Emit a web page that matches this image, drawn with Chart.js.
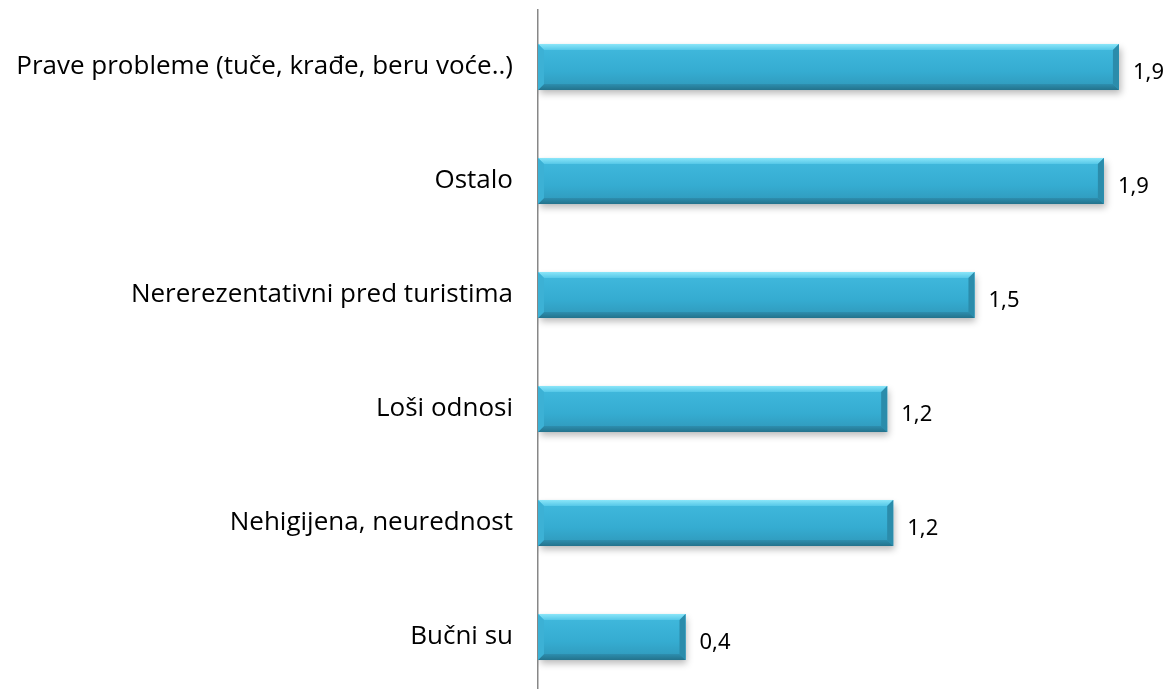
<!DOCTYPE html>
<html>
<head>
<meta charset="utf-8">
<script src="https://cdn.jsdelivr.net/npm/chart.js@4.4.1/dist/chart.umd.min.js"></script>
<style>
  html, body { margin: 0; padding: 0; background: #ffffff; overflow: hidden; }
  #wrap { width: 1174px; height: 689px; overflow: hidden; }
  #box { width: 1174px; height: 694px; position: relative; }
</style>
</head>
<body>
<div id="wrap"><div id="box"><canvas id="chart"></canvas></div></div>
<script>
const categories = [
    'Prave probleme (tuče, krađe, beru voće..)',
    'Ostalo',
    'Nererezentativni pred turistima',
    'Loši odnosi',
    'Nehigijena, neurednost',
    'Bučni su'
];
// bar lengths
const values = [1.93, 1.88, 1.45, 1.16, 1.18, 0.49];
// value labels as printed next to the bars
const valueLabels = ['1,9', '1,9', '1,5', '1,2', '1,2', '0,4'];

const shadowPlugin = {
    id: 'barShadow',
    beforeDatasetsDraw(chart) {
        const ctx = chart.ctx;
        ctx.save();
        ctx.shadowColor = 'rgba(0,0,0,0.28)';
        ctx.shadowBlur = 7;
        ctx.shadowOffsetX = 2;
        ctx.shadowOffsetY = 4;
    },
    afterDatasetsDraw(chart) {
        chart.ctx.restore();
    }
};

function poly(ctx, pts, fill) {
    ctx.beginPath();
    ctx.moveTo(pts[0][0], pts[0][1]);
    for (let i = 1; i < pts.length; i++) ctx.lineTo(pts[i][0], pts[i][1]);
    ctx.closePath();
    ctx.fillStyle = fill;
    ctx.fill();
}

const bevelPlugin = {
    id: 'bevel',
    afterDatasetsDraw(chart) {
        const ctx = chart.ctx;
        const meta = chart.getDatasetMeta(0);
        ctx.save();
        meta.data.forEach((bar, i) => {
            const p = bar.getProps(['x', 'y', 'base', 'height'], true);
            const l = p.base, r = p.x, t = p.y - p.height / 2, b = p.y + p.height / 2;
            const bv = 6;
            // face
            let g = ctx.createLinearGradient(0, t, 0, b);
            g.addColorStop(0, '#41bade');
            g.addColorStop(0.6, '#35acd1');
            g.addColorStop(1, '#2f97b9');
            ctx.fillStyle = g;
            ctx.fillRect(l, t, r - l, b - t);
            // top
            g = ctx.createLinearGradient(0, t, 0, t + bv);
            g.addColorStop(0, '#8be6f9');
            g.addColorStop(1, '#56c8e8');
            poly(ctx, [[l, t], [r, t], [r - bv, t + bv], [l + bv, t + bv]], g);
            // bottom
            g = ctx.createLinearGradient(0, b - bv, 0, b);
            g.addColorStop(0, '#2d8eae');
            g.addColorStop(1, '#23728c');
            poly(ctx, [[l, b], [r, b], [r - bv, b - bv], [l + bv, b - bv]], g);
            // left
            poly(ctx, [[l, t], [l + bv, t + bv], [l + bv, b - bv], [l, b]], '#3cb1d5');
            // right
            poly(ctx, [[r, t], [r - bv, t + bv], [r - bv, b - bv], [r, b]], '#2b8cab');
            // value label
            ctx.fillStyle = '#000000';
            ctx.font = '22px "Noto Sans"';
            ctx.textAlign = 'left';
            ctx.textBaseline = 'middle';
            ctx.fillText(valueLabels[i], r + 14, p.y + 6);
        });
        ctx.restore();
    }
};

new Chart(document.getElementById('chart'), {
    type: 'bar',
    data: {
        labels: categories,
        datasets: [{
            data: values,
            backgroundColor: '#35acd1',
            borderWidth: 0,
            barPercentage: 0.404,
            categoryPercentage: 1.0
        }]
    },
    options: {
        indexAxis: 'y',
        responsive: true,
        maintainAspectRatio: false,
        animation: false,
        layout: { padding: { top: 10, bottom: 0, left: 0, right: 34 } },
        plugins: {
            legend: { display: false },
            tooltip: { enabled: false }
        },
        scales: {
            x: {
                display: false,
                min: 0,
                max: 2.0
            },
            y: {
                grid: { display: false },
                border: { display: true, color: '#878787', width: 1.5 },
                ticks: {
                    color: '#000000',
                    padding: 17,
                    font: { family: '"Open Sans"', size: 26 }
                },
                afterFit(scale) {
                    scale.width = 538;
                    scale.paddingTop = 0;
                    scale.paddingBottom = 0;
                }
            }
        }
    },
    plugins: [shadowPlugin, bevelPlugin]
});
</script>
</body>
</html>
